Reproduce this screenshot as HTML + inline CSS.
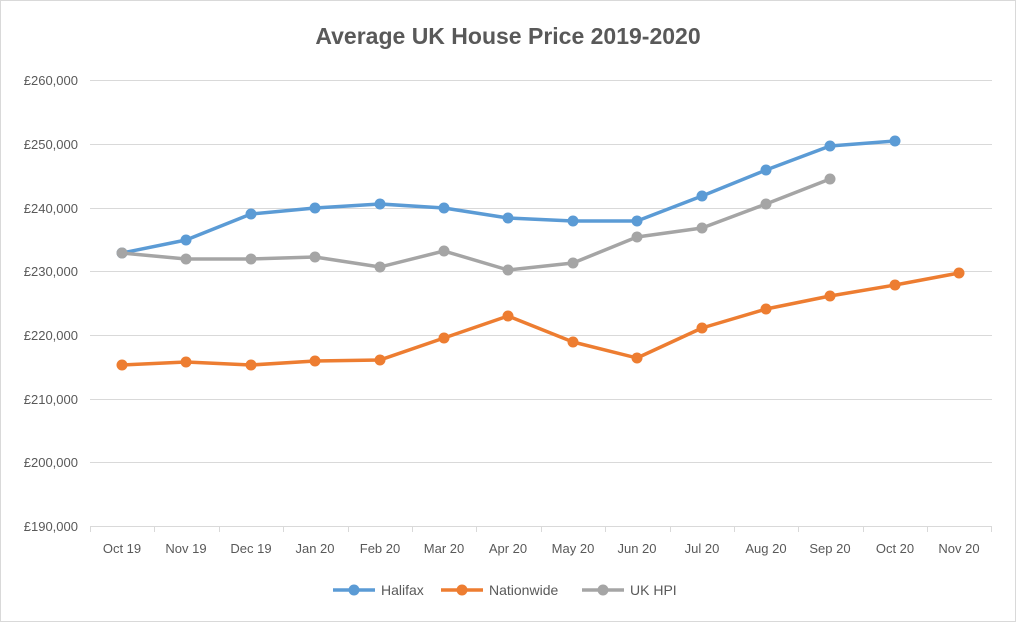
<!DOCTYPE html>
<html><head><meta charset="utf-8"><style>
html,body{margin:0;padding:0;background:#fff}
svg{display:block}
text{font-family:"Liberation Sans",sans-serif;fill:#595959}
</style></head><body>
<svg width="1016" height="622" viewBox="0 0 1016 622">
<rect x="0.5" y="0.5" width="1015" height="621" fill="#fff" stroke="#d9d9d9"/>
<text x="508" y="44" text-anchor="middle" font-size="23" font-weight="bold">Average UK House Price 2019-2020</text>
<g stroke="#d9d9d9" stroke-width="1">
<line x1="90" y1="80.5" x2="992" y2="80.5"/>
<line x1="90" y1="144.5" x2="992" y2="144.5"/>
<line x1="90" y1="208.5" x2="992" y2="208.5"/>
<line x1="90" y1="271.5" x2="992" y2="271.5"/>
<line x1="90" y1="335.5" x2="992" y2="335.5"/>
<line x1="90" y1="399.5" x2="992" y2="399.5"/>
<line x1="90" y1="462.5" x2="992" y2="462.5"/>
<line x1="90" y1="526.5" x2="992" y2="526.5"/>
</g>
<g stroke="#d9d9d9">
<line x1="90.5" y1="526" x2="90.5" y2="532"/><line x1="154.5" y1="526" x2="154.5" y2="532"/><line x1="219.5" y1="526" x2="219.5" y2="532"/><line x1="283.5" y1="526" x2="283.5" y2="532"/><line x1="348.5" y1="526" x2="348.5" y2="532"/><line x1="412.5" y1="526" x2="412.5" y2="532"/><line x1="476.5" y1="526" x2="476.5" y2="532"/><line x1="541.5" y1="526" x2="541.5" y2="532"/><line x1="605.5" y1="526" x2="605.5" y2="532"/><line x1="670.5" y1="526" x2="670.5" y2="532"/><line x1="734.5" y1="526" x2="734.5" y2="532"/><line x1="798.5" y1="526" x2="798.5" y2="532"/><line x1="863.5" y1="526" x2="863.5" y2="532"/><line x1="927.5" y1="526" x2="927.5" y2="532"/><line x1="991.5" y1="526" x2="991.5" y2="532"/>
</g>
<g font-size="13" text-anchor="end">
<text x="78" y="85">£260,000</text><text x="78" y="149">£250,000</text><text x="78" y="213">£240,000</text><text x="78" y="276">£230,000</text><text x="78" y="340">£220,000</text><text x="78" y="404">£210,000</text><text x="78" y="467">£200,000</text><text x="78" y="531">£190,000</text>
</g>
<g font-size="13" text-anchor="middle">
<text x="122" y="553">Oct 19</text><text x="186" y="553">Nov 19</text><text x="251" y="553">Dec 19</text><text x="315" y="553">Jan 20</text><text x="380" y="553">Feb 20</text><text x="444" y="553">Mar 20</text><text x="508" y="553">Apr 20</text><text x="573" y="553">May 20</text><text x="637" y="553">Jun 20</text><text x="702" y="553">Jul 20</text><text x="766" y="553">Aug 20</text><text x="830" y="553">Sep 20</text><text x="895" y="553">Oct 20</text><text x="959" y="553">Nov 20</text>
</g>
<g fill="none" stroke-width="3.5" stroke-linejoin="round">
<polyline stroke="#5b9bd5" points="122,253 186,240 251,214 315,208 380,204 444,208 508,218 573,221 637,221 702,196 766,170 830,146 895,141"/>
<polyline stroke="#ed7d31" points="122,365 186,362 251,365 315,361 380,360 444,338 508,316 573,342 637,358 702,328 766,309 830,296 895,285 959,273"/>
<polyline stroke="#a5a5a5" points="122,253 186,259 251,259 315,257 380,267 444,251 508,270 573,263 637,237 702,228 766,204 830,179"/>
</g>
<g fill="#5b9bd5"><circle cx="122" cy="253" r="5.5"/><circle cx="186" cy="240" r="5.5"/><circle cx="251" cy="214" r="5.5"/><circle cx="315" cy="208" r="5.5"/><circle cx="380" cy="204" r="5.5"/><circle cx="444" cy="208" r="5.5"/><circle cx="508" cy="218" r="5.5"/><circle cx="573" cy="221" r="5.5"/><circle cx="637" cy="221" r="5.5"/><circle cx="702" cy="196" r="5.5"/><circle cx="766" cy="170" r="5.5"/><circle cx="830" cy="146" r="5.5"/><circle cx="895" cy="141" r="5.5"/></g>
<g fill="#ed7d31"><circle cx="122" cy="365" r="5.5"/><circle cx="186" cy="362" r="5.5"/><circle cx="251" cy="365" r="5.5"/><circle cx="315" cy="361" r="5.5"/><circle cx="380" cy="360" r="5.5"/><circle cx="444" cy="338" r="5.5"/><circle cx="508" cy="316" r="5.5"/><circle cx="573" cy="342" r="5.5"/><circle cx="637" cy="358" r="5.5"/><circle cx="702" cy="328" r="5.5"/><circle cx="766" cy="309" r="5.5"/><circle cx="830" cy="296" r="5.5"/><circle cx="895" cy="285" r="5.5"/><circle cx="959" cy="273" r="5.5"/></g>
<g fill="#a5a5a5"><circle cx="122" cy="253" r="5.5"/><circle cx="186" cy="259" r="5.5"/><circle cx="251" cy="259" r="5.5"/><circle cx="315" cy="257" r="5.5"/><circle cx="380" cy="267" r="5.5"/><circle cx="444" cy="251" r="5.5"/><circle cx="508" cy="270" r="5.5"/><circle cx="573" cy="263" r="5.5"/><circle cx="637" cy="237" r="5.5"/><circle cx="702" cy="228" r="5.5"/><circle cx="766" cy="204" r="5.5"/><circle cx="830" cy="179" r="5.5"/></g>
<g stroke-width="3.5">
<line x1="333" y1="590" x2="375" y2="590" stroke="#5b9bd5"/><circle cx="354" cy="590" r="5.5" fill="#5b9bd5"/>
<line x1="441" y1="590" x2="483" y2="590" stroke="#ed7d31"/><circle cx="462" cy="590" r="5.5" fill="#ed7d31"/>
<line x1="582" y1="590" x2="624" y2="590" stroke="#a5a5a5"/><circle cx="603" cy="590" r="5.5" fill="#a5a5a5"/>
</g>
<g font-size="14">
<text x="381" y="595">Halifax</text><text x="489" y="595">Nationwide</text><text x="630" y="595">UK HPI</text>
</g>
</svg>
</body></html>
